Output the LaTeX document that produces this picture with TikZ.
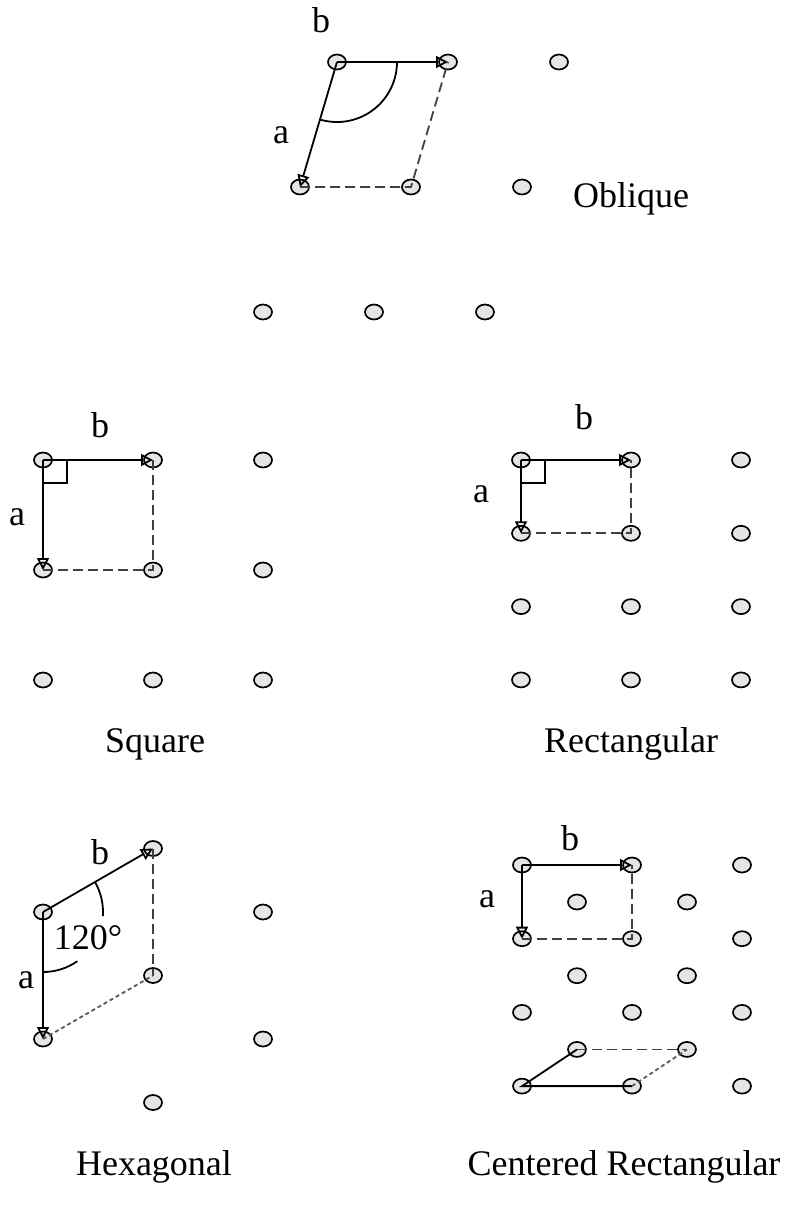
\documentclass[tikz,border=0pt]{standalone}
\usepackage{fontspec}
\setmainfont{Liberation Serif}
\usetikzlibrary{arrows.meta,positioning,shapes.geometric}

\begin{document}
\begin{tikzpicture}[
  x=0.5pt, y=-0.5pt,
  font=\fontsize{18}{22}\selectfont,
  site/.style={
    ellipse, draw, line width=0.85pt, fill=gray!20,
    minimum width=9pt, minimum height=7.5pt, inner sep=0pt
  },
  vec/.style={
    -{Triangle[open, length=6pt, width=6pt]}, line width=0.9pt
  },
  bond/.style={line width=0.9pt},
  cellline/.style={
    line width=0.9pt, draw=black!75, dash pattern=on 5pt off 2.5pt
  },
  fineline/.style={
    line width=0.9pt, draw=black!65, dash pattern=on 2pt off 1.5pt
  },
  veclabel/.style={inner sep=0pt},
  latname/.style={anchor=base, inner sep=0pt}
]
\useasboundingbox (0,0) rectangle (788,1207);

% ===== Oblique =====
\foreach \i in {0,1,2} {
  \foreach \j in {0,1,2} {
    \node[site] (ob\i\j) at ({337+111*\i-37*\j},{62+125*\j}) {};
  }
}
\draw[vec] (ob00.center) -- (ob10.center);
\draw[vec] (ob00.center) -- (ob01.center);
\draw[cellline] (ob01.center) -- (ob11.center) -- (ob10.center);
\draw[bond] (ob00.center) ++(60,0) arc[start angle=0, end angle=106.5, radius=60];
\node[veclabel] (obB) at (321,20) {b};
\node[veclabel] (obA) at (281,135) {a};
\node[latname] (obName) at (631,207) {Oblique};

% ===== Square =====
\foreach \i in {0,1,2} {
  \foreach \j in {0,1,2} {
    \node[site] (sq\i\j) at ({43+110*\i},{460+110*\j}) {};
  }
}
\draw[vec] (sq00.center) -- (sq10.center);
\draw[vec] (sq00.center) -- (sq01.center);
\draw[cellline] (sq01.center) -- (sq11.center) -- (sq10.center);
\draw[bond] (sq00.center) ++(24,0) -- ++(0,23) -- ++(-24,0);
\node[veclabel] (sqB) at (100,425) {b};
\node[veclabel] (sqA) at (17,517) {a};
\node[latname] (sqName) at (155,752) {Square};

% ===== Rectangular =====
\foreach \i in {0,1,2} {
  \foreach \j in {0,1,2,3} {
    \node[site] (re\i\j) at ({521+110*\i},{460+73.3*\j}) {};
  }
}
\draw[vec] (re00.center) -- (re10.center);
\draw[vec] (re00.center) -- (re01.center);
\draw[cellline] (re01.center) -- (re11.center) -- (re10.center);
\draw[bond] (re00.center) ++(24,0) -- ++(0,23) -- ++(-24,0);
\node[veclabel] (reB) at (584,417) {b};
\node[veclabel] (reA) at (481,494) {a};
\node[latname] (reName) at (631,752) {Rectangular};

% ===== Hexagonal =====
\foreach \i/\j in {0/0, 0/1, 1/0, 1/1, 1/2, 2/0, 2/1} {
  \pgfmathsetmacro\hy{912-63.5*mod(\i,2)+127*\j}
  \node[site] (hx\i\j) at ({43+110*\i},\hy) {};
}
\draw[vec] (hx00.center) -- (hx10.center);
\draw[vec] (hx00.center) -- (hx01.center);
\draw[cellline] (hx10.center) -- (hx11.center);
\draw[fineline] (hx01.center) -- (hx11.center);
\draw[bond] (hx00.center) ++(-30:60) arc[start angle=-30, end angle=4, radius=60];
\draw[bond] (hx00.center) ++(55:60) arc[start angle=55, end angle=90, radius=60];
\node[veclabel] (hxB) at (100,852) {b};
\node[veclabel] (hxA) at (26,980) {a};
\node[veclabel] (hxAngle) at (88,938) {120°};
\node[latname] (hxName) at (154,1175) {Hexagonal};

% ===== Centered Rectangular =====
\foreach \i in {0,1,2} {
  \foreach \j in {0,1,2,3} {
    \node[site] (cr\i\j) at ({522+110*\i},{865+73.7*\j}) {};
  }
}
\foreach \i in {0,1} {
  \foreach \j in {0,1,2} {
    \node[site] (cc\i\j) at ({577+110*\i},{902+73.7*\j}) {};
  }
}
\draw[vec] (cr00.center) -- (cr10.center);
\draw[vec] (cr00.center) -- (cr01.center);
\draw[cellline] (cr01.center) -- (cr11.center) -- (cr10.center);
\draw[bond] (cc02.center) -- (cr03.center) -- (cr13.center);
\draw[cellline] (cc02.center) -- (cc12.center);
\draw[fineline] (cr13.center) -- (cc12.center);
\node[veclabel] (crB) at (570,838) {b};
\node[veclabel] (crA) at (487,899) {a};
\node[latname] (crName) at (624,1175) {Centered Rectangular};

\end{tikzpicture}
\end{document}
